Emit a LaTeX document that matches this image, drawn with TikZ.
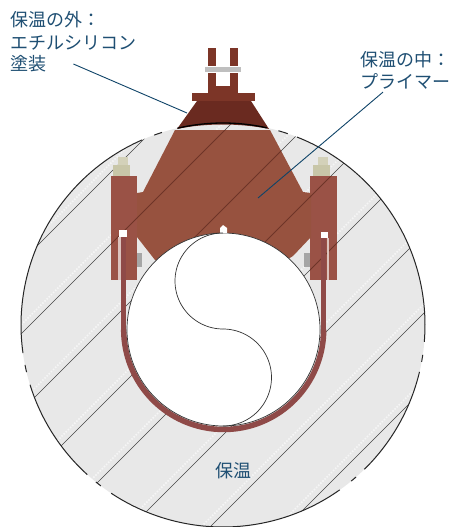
\documentclass[tikz,border=0pt]{standalone}
\usepackage{fontspec}
\newfontfamily\jpfont{Noto Sans CJK JP}
\definecolor{inkblue}{HTML}{1F4F73}
\definecolor{leader}{HTML}{0F4468}
\definecolor{insul}{HTML}{E8E8E8}
\definecolor{plate}{HTML}{97523F}
\definecolor{lugc}{HTML}{9A5246}
\definecolor{capc}{HTML}{6A2A20}
\definecolor{flangec}{HTML}{7C3527}
\definecolor{strapc}{HTML}{8F4A48}
\definecolor{hatchc}{HTML}{454545}
\definecolor{hatchp}{HTML}{6E3428}
\definecolor{nutc}{HTML}{C8C6A8}
\tikzset{
  x=1pt,y=-1pt,
  label/.style={font=\jpfont\fontsize{18}{20}\selectfont,text=inkblue,anchor=west,inner sep=0pt},
  leaderline/.style={leader,line width=0.9pt},
  outerarc/.style={black!85,line width=1pt},
  hatchline/.style={hatchc,line width=0.6pt},
  hatchplate/.style={hatchp,line width=0.8pt},
  hatchband/.style={white,line width=1.6pt,opacity=0.6,dash pattern=on 1.5pt off 1.5pt},
}
\newcommand{\outerseg}[2]{\draw[outerarc] plot[domain=#1:#2,samples=60,smooth] ({223+202*cos(\x)},{325+202*sin(\x)});}
\newcommand{\hatchset}[1]{%
  \foreach \c in {283,355,432,507,580,658,737,813}{\draw[#1] (0,\c) -- (\c,0);}}
\newcommand{\bandset}{%
  \foreach \c in {274,346,423,498,571,649,728,804}{\draw[hatchband] (0,\c) -- (\c,0);}}
\newcommand{\platepath}{(175,130) -- (270,130) -- (303,192) -- (311,193) -- (311,237) -- (293,256) -- (223,300) -- (155,260) -- (137,237) -- (137,193) -- (143,192) -- cycle}
\begin{document}
\begin{tikzpicture}
\useasboundingbox (0,0) rectangle (452,527);
\fill[white] (0,0) rectangle (452,527);
% insulation
\fill[insul] (223,325) circle[radius=202pt];
\begin{scope}
  \clip (223,325) circle[radius=202pt];
  \bandset
  \hatchset{hatchline}
\end{scope}
% outer contour with its gaps
\outerseg{-68.5}{4.8}
\outerseg{8.5}{10.5}
\outerseg{13.4}{45.6}
\outerseg{48.8}{50.6}
\outerseg{54.7}{123.6}
\outerseg{127.2}{129}
\outerseg{132.2}{162.8}
\outerseg{166.5}{168.6}
\outerseg{172}{246.4}
\outerseg{250.1}{252.4}
\outerseg{285.9}{288.7}
% bolts on the lugs
\fill[nutc] (113,165) rectangle (130,176);
\fill[nutc!80!white] (118,157) rectangle (128,165);
\fill[nutc] (313,165) rectangle (330,176);
\fill[nutc!80!white] (318,157) rectangle (328,165);
\fill[black!35] (137,253) rectangle (142,267);
\fill[black!35] (304,253) rectangle (310,267);
% lugs
\fill[lugc] (111,176) rectangle (137,280);
\fill[lugc] (310,176) rectangle (337,280);
% plate
\fill[plate] \platepath;
% hatching across the steel
\begin{scope}
  \clip (223,325) circle[radius=202pt];
  \clip \platepath;
  \hatchset{hatchplate}
\end{scope}
\begin{scope}
  \clip (111,176) rectangle (137,280) (310,176) rectangle (337,280);
  \clip (223,325) circle[radius=202pt];
  \hatchset{hatchplate}
\end{scope}
% slots in the lugs
\fill[white!65!lugc] (118,237) rectangle (121,280);
\fill[white!65!lugc] (327,238) rectangle (329,280);
\fill[white] (119,230) rectangle (127,237);
\fill[white] (321,232) rectangle (328,238);
% strap
\draw[strapc,line width=5.5pt] plot[domain=0:180,samples=90,smooth] ({223.7+100*cos(\x)},{329.5+100*sin(\x)});
\draw[strapc,line width=5.5pt] (123.7,329.5) -- (123.7,237);
\draw[strapc,line width=5.5pt] (323.7,329.5) -- (323.7,238);
% bore
\fill[white] (223.5,329.5) circle[radius=96.5pt];
\draw[black!80,line width=0.7pt] (223.5,329.5) circle[radius=96.5pt];
\fill[white] (220,233) -- (220,228) -- (223,225) -- (227,228) -- (227,233) -- cycle;
% yin-yang seam
\draw[black!80,line width=0.7pt] plot[domain=-90:-270,samples=60,smooth] ({223+48*cos(\x)},{281+48*sin(\x)});
\draw[black!80,line width=0.7pt] plot[domain=-90:90,samples=60,smooth] ({223+48.5*cos(\x)},{377.5+48.5*sin(\x)});
% top cap and shackle
\fill[black!25] (205,67) rectangle (241,72);
\fill[flangec] (208,48) rectangle (216,66);
\fill[flangec] (230,48) rectangle (238,66);
\fill[flangec] (208,73) rectangle (216,93);
\fill[flangec] (230,73) rectangle (238,93);
\fill[flangec] (216,86) rectangle (230,93);
\fill[flangec] (192,93) rectangle (255,101);
\fill[capc] (197,101) -- (251,101) -- (269,129) .. controls (240,123) and (205,123) .. (177,129) -- cycle;
\draw[black,line width=1.3pt] plot[domain=257:282.5,samples=40,smooth] ({223+202*cos(\x)},{325+202*sin(\x)});
% labels
\node[label] (outA) at (10,20) {保温の外：};
\node[label] (outB) at (10,43) {エチルシリコン};
\node[label] (outC) at (10,64) {塗装};
\node[label] (inA) at (360,60) {保温の中：};
\node[label] (inB) at (360,81) {プライマー};
\node[label,anchor=center] (ins) at (233.5,471) {保温};
% leaders
\coordinate (capPt) at (187,113);
\coordinate (platePt) at (258,198);
\draw[leaderline] (outC.east) ++(27,0) -- (capPt);
\draw[leaderline] (inB.south west) ++(23,3) -- (platePt);
\end{tikzpicture}
\end{document}
